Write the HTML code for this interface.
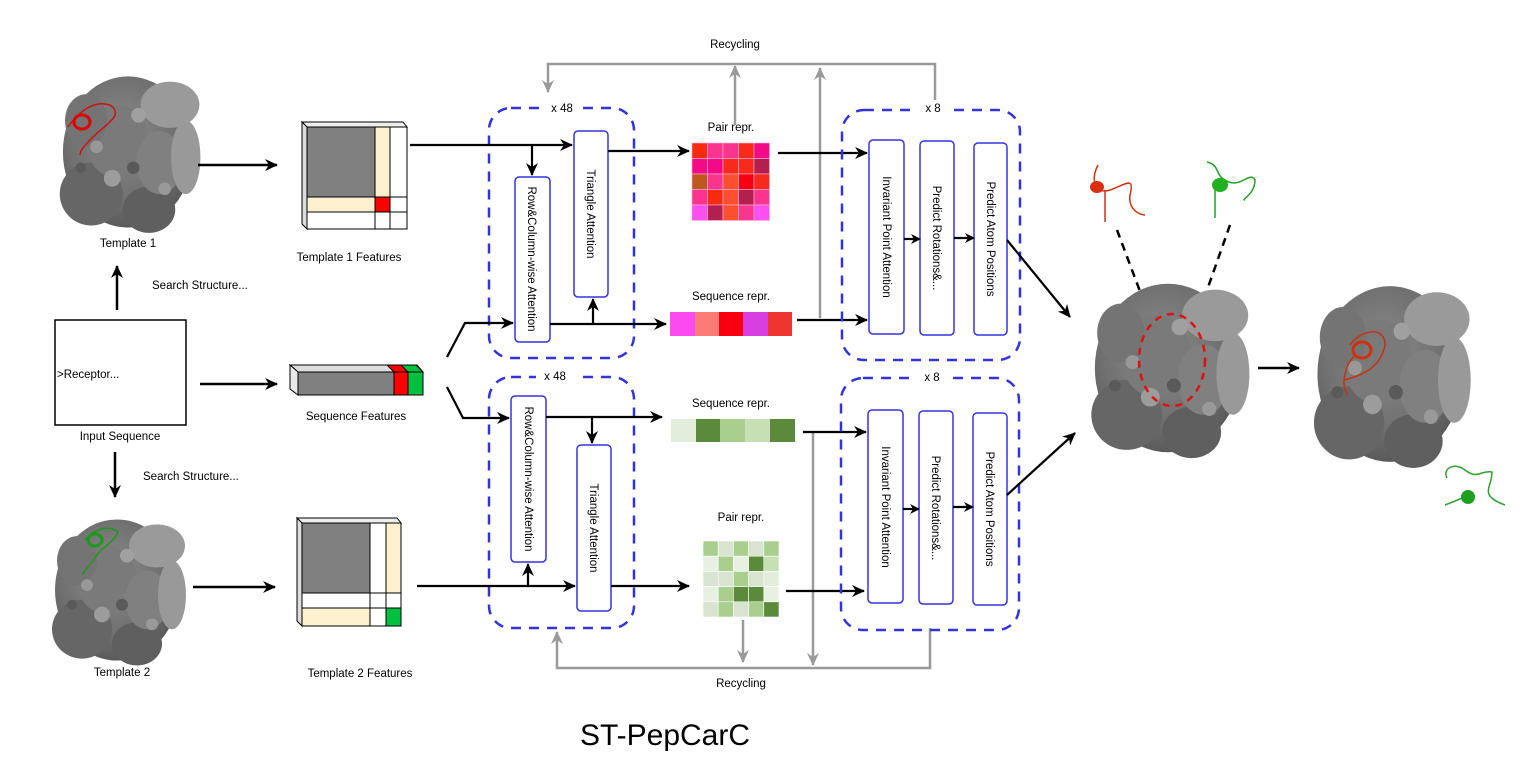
<!DOCTYPE html>
<html><head><meta charset="utf-8"><style>
html,body{margin:0;padding:0;background:#fff;}
svg{display:block;font-family:"Liberation Sans",Arial,sans-serif;}
</style></head><body>
<svg width="1524" height="778" viewBox="0 0 1524 778" xmlns="http://www.w3.org/2000/svg" font-size="11.5">
<defs>
<marker id="ah" markerWidth="10" markerHeight="10" refX="8" refY="5" orient="auto" markerUnits="userSpaceOnUse"><path d="M0,0 L10,5 L0,10 L3,5 Z" fill="#000"/></marker>
<marker id="ahs" markerWidth="14" markerHeight="14" refX="12" refY="7" orient="auto" markerUnits="userSpaceOnUse"><path d="M0,1 L13,7 L0,13 L4,7 Z" fill="#000"/></marker>
<marker id="ag" markerWidth="14" markerHeight="14" refX="12" refY="7" orient="auto" markerUnits="userSpaceOnUse"><path d="M0,1 L13,7 L0,13 L4,7 Z" fill="#9a9a9a"/></marker>
<radialGradient id="pg" cx="45%" cy="40%" r="60%"><stop offset="0" stop-color="#8c8c8c"/><stop offset="0.7" stop-color="#6f6f6f"/><stop offset="1" stop-color="#5a5a5a"/></radialGradient>
<g id="prot">
<ellipse cx="0" cy="0" rx="62" ry="72" fill="url(#pg)"/>
<ellipse cx="40" cy="-45" rx="28" ry="22" fill="#9a9a9a"/>
<ellipse cx="-35" cy="40" rx="30" ry="30" fill="#666"/>
<ellipse cx="20" cy="55" rx="25" ry="22" fill="#5f5f5f"/>
<ellipse cx="-10" cy="-10" rx="30" ry="35" fill="#7a7a7a"/>
<ellipse cx="30" cy="10" rx="22" ry="30" fill="#808080"/>
<ellipse cx="-40" cy="-30" rx="20" ry="25" fill="#747474"/>
<ellipse cx="55" cy="5" rx="14" ry="35" fill="#999"/>
<circle cx="-15" cy="25" r="8" fill="#9c9c9c"/><circle cx="10" cy="-35" r="7" fill="#a0a0a0"/><circle cx="35" cy="35" r="6" fill="#999"/><circle cx="-30" cy="-5" r="6" fill="#989898"/><circle cx="5" cy="15" r="6" fill="#5a5a5a"/><circle cx="-45" cy="15" r="5" fill="#5a5a5a"/>
</g>
</defs>

<use href="#prot" transform="translate(128,152) scale(1.05,1.05)"/>
<path d="M68,127 C80,110 95,100 110,105 C125,115 105,125 95,135 C85,145 80,150 80,155" stroke="#d01010" stroke-width="1.5" fill="none"/>
<ellipse cx="82" cy="122" rx="8" ry="7" fill="none" stroke="#e00000" stroke-width="3"/>
<text x="128" y="247" text-anchor="middle">Template 1</text>

<use href="#prot" transform="translate(117,590) scale(1.0,0.98)"/>
<path d="M85,540 C95,528 110,525 118,532 C112,545 100,548 95,558 C90,565 85,570 82,575" stroke="#1a9a1a" stroke-width="1.5" fill="none"/>
<ellipse cx="95" cy="540" rx="7" ry="6" fill="none" stroke="#1a9a1a" stroke-width="3"/>
<text x="122" y="676" text-anchor="middle">Template 2</text>

<rect x="55" y="320" width="131" height="105" fill="#fff" stroke="#000" stroke-width="1.5"/>
<text x="57" y="378">&gt;Receptor...</text>
<text x="120" y="440" text-anchor="middle">Input Sequence</text>
<line x1="117" y1="310" x2="117" y2="266" stroke="#000" stroke-width="2.5" marker-end="url(#ahs)"/>
<text x="152" y="289">Search Structure...</text>
<line x1="115" y1="452" x2="115" y2="497" stroke="#000" stroke-width="2.5" marker-end="url(#ahs)"/>
<text x="143" y="480">Search Structure...</text>
<line x1="198" y1="165" x2="277" y2="165" stroke="#000" stroke-width="2.5" marker-end="url(#ahs)"/>
<line x1="200" y1="384" x2="277" y2="384" stroke="#000" stroke-width="2.5" marker-end="url(#ahs)"/>
<line x1="193" y1="587" x2="275" y2="587" stroke="#000" stroke-width="2.5" marker-end="url(#ahs)"/>

<g stroke="#000" stroke-width="1">
<polygon points="302,122 403,122 407,127 307,127" fill="#eee"/>
<polygon points="302,122 307,127 307,229 302,224" fill="#ddd"/>
<rect x="307" y="127" width="68" height="70" fill="#808080"/>
<rect x="375" y="127" width="15" height="70" fill="#fdf0cf"/>
<rect x="390" y="127" width="17" height="70" fill="#fff"/>
<rect x="307" y="197" width="68" height="15" fill="#fdf0cf"/>
<rect x="375" y="197" width="15" height="15" fill="#f00"/>
<rect x="390" y="197" width="17" height="15" fill="#fff"/>
<rect x="307" y="212" width="68" height="17" fill="#fff"/>
<rect x="375" y="212" width="15" height="17" fill="#fff"/>
<rect x="390" y="212" width="17" height="17" fill="#fff"/>
</g>
<text x="349" y="261" text-anchor="middle">Template 1 Features</text>

<g stroke="#000" stroke-width="1">
<polygon points="290,365 417,365 423,372 298,372" fill="#ddd"/>
<polygon points="290,365 298,372 298,395 290,389" fill="#e8e8e8"/>
<rect x="298" y="372" width="96" height="23" fill="#808080"/>
<rect x="394" y="372" width="14" height="23" fill="#f00"/>
<rect x="408" y="372" width="15" height="23" fill="#00c040"/>
<polygon points="387,365 401,365 408,372 394,372" fill="#f00"/>
<polygon points="401,365 416,365 423,372 408,372" fill="#00c040"/>
</g>
<text x="356" y="420" text-anchor="middle">Sequence Features</text>

<g stroke="#000" stroke-width="1">
<polygon points="297,518 397,518 401,523 302,523" fill="#eee"/>
<polygon points="297,518 302,523 302,626 297,621" fill="#ddd"/>
<rect x="302" y="523" width="68" height="70" fill="#808080"/>
<rect x="370" y="523" width="16" height="70" fill="#fff"/>
<rect x="386" y="523" width="15" height="70" fill="#fdf0cf"/>
<rect x="302" y="593" width="68" height="15" fill="#fff"/>
<rect x="370" y="593" width="16" height="15" fill="#fff"/>
<rect x="386" y="593" width="15" height="15" fill="#fff"/>
<rect x="302" y="608" width="68" height="18" fill="#fdf0cf"/>
<rect x="370" y="608" width="16" height="18" fill="#fff"/>
<rect x="386" y="608" width="15" height="18" fill="#00c040"/>
</g>
<text x="360" y="677" text-anchor="middle">Template 2 Features</text>

<rect x="489" y="108" width="145" height="250" rx="22" fill="none" stroke="#3333dd" stroke-width="2.5" stroke-dasharray="10,8"/>
<rect x="545" y="100" width="34" height="14" fill="#fff"/>
<text x="562" y="112" text-anchor="middle">x 48</text>
<rect x="515" y="177" width="35" height="165" rx="4" fill="#fff" stroke="#3333dd" stroke-width="1.5"/>
<text transform="translate(528,259) rotate(90)" text-anchor="middle">Row&amp;Column-wise Attention</text>
<rect x="574" y="131" width="34" height="166" rx="4" fill="#fff" stroke="#3333dd" stroke-width="1.5"/>
<text transform="translate(587,214) rotate(90)" text-anchor="middle">Triangle Attention</text>
<line x1="410" y1="145" x2="572" y2="145" stroke="#000" stroke-width="2.2" marker-end="url(#ahs)"/>
<line x1="532" y1="145" x2="532" y2="175" stroke="#000" stroke-width="2.2" marker-end="url(#ahs)"/>
<polyline points="447,357 465,323 513,323" fill="none" stroke="#000" stroke-width="2.2" marker-end="url(#ahs)"/>
<line x1="550" y1="324" x2="666" y2="324" stroke="#000" stroke-width="2.2" marker-end="url(#ahs)"/>
<line x1="593" y1="324" x2="593" y2="299" stroke="#000" stroke-width="2.2" marker-end="url(#ahs)"/>
<line x1="608" y1="151" x2="689" y2="151" stroke="#000" stroke-width="2.2" marker-end="url(#ahs)"/>

<text x="731" y="131" text-anchor="middle">Pair repr.</text>
<g stroke="#ffb0d8" stroke-width="0.6">
<rect x="692" y="143" width="15.5" height="15.5" fill="#f62b10"/><rect x="707.5" y="143" width="15.5" height="15.5" fill="#f9358f"/><rect x="723" y="143" width="15.5" height="15.5" fill="#f9358f"/><rect x="738.5" y="143" width="15.5" height="15.5" fill="#f62b1c"/><rect x="754" y="143" width="15.5" height="15.5" fill="#f20a86"/>
<rect x="692" y="158.5" width="15.5" height="15.5" fill="#f20a86"/><rect x="707.5" y="158.5" width="15.5" height="15.5" fill="#f20a86"/><rect x="723" y="158.5" width="15.5" height="15.5" fill="#f62b1c"/><rect x="738.5" y="158.5" width="15.5" height="15.5" fill="#f62b1c"/><rect x="754" y="158.5" width="15.5" height="15.5" fill="#b3204f"/>
<rect x="692" y="174" width="15.5" height="15.5" fill="#c0571c"/><rect x="707.5" y="174" width="15.5" height="15.5" fill="#f9358f"/><rect x="723" y="174" width="15.5" height="15.5" fill="#fb5030"/><rect x="738.5" y="174" width="15.5" height="15.5" fill="#f80010"/><rect x="754" y="174" width="15.5" height="15.5" fill="#f62b1c"/>
<rect x="692" y="189.5" width="15.5" height="15.5" fill="#f9358f"/><rect x="707.5" y="189.5" width="15.5" height="15.5" fill="#f62b10"/><rect x="723" y="189.5" width="15.5" height="15.5" fill="#fb5030"/><rect x="738.5" y="189.5" width="15.5" height="15.5" fill="#b3204f"/><rect x="754" y="189.5" width="15.5" height="15.5" fill="#f9358f"/>
<rect x="692" y="205" width="15.5" height="15.5" fill="#fb50f0"/><rect x="707.5" y="205" width="15.5" height="15.5" fill="#b3204f"/><rect x="723" y="205" width="15.5" height="15.5" fill="#fb5030"/><rect x="738.5" y="205" width="15.5" height="15.5" fill="#f9358f"/><rect x="754" y="205" width="15.5" height="15.5" fill="#fb50f0"/>
</g>
<text x="731" y="300" text-anchor="middle">Sequence repr.</text>
<rect x="670" y="312" width="25" height="24" fill="#fb4af0"/><rect x="695" y="312" width="24" height="24" fill="#fb7b76"/><rect x="719" y="312" width="24" height="24" fill="#f80010"/><rect x="743" y="312" width="25" height="24" fill="#d83fe0"/><rect x="768" y="312" width="24" height="24" fill="#ef3530"/>

<polyline points="935,108 935,64 548,64 548,92" fill="none" stroke="#9a9a9a" stroke-width="2.5" marker-end="url(#ag)"/>
<line x1="735" y1="125" x2="735" y2="66" stroke="#9a9a9a" stroke-width="2.5" marker-end="url(#ag)"/>
<line x1="820" y1="318" x2="820" y2="68" stroke="#9a9a9a" stroke-width="2.5" marker-end="url(#ag)"/>
<text x="735" y="48" text-anchor="middle">Recycling</text>

<line x1="778" y1="153" x2="867" y2="153" stroke="#000" stroke-width="2.2" marker-end="url(#ahs)"/>
<line x1="797" y1="320" x2="867" y2="320" stroke="#000" stroke-width="2.2" marker-end="url(#ahs)"/>
<rect x="842" y="110" width="178" height="250" rx="22" fill="none" stroke="#3333dd" stroke-width="2.5" stroke-dasharray="10,8"/>
<rect x="918" y="100" width="30" height="14" fill="#fff"/>
<text x="933" y="112" text-anchor="middle">x 8</text>
<rect x="869" y="140" width="35" height="194" rx="4" fill="#fff" stroke="#3333dd" stroke-width="1.5"/>
<text transform="translate(883,237) rotate(90)" text-anchor="middle">Invariant Point Attention</text>
<rect x="920" y="141" width="34" height="194" rx="4" fill="#fff" stroke="#3333dd" stroke-width="1.5"/>
<text transform="translate(933,238) rotate(90)" text-anchor="middle">Predict Rotations&amp;...</text>
<rect x="974" y="143" width="33" height="192" rx="4" fill="#fff" stroke="#3333dd" stroke-width="1.5"/>
<text transform="translate(987,239) rotate(90)" text-anchor="middle">Predict Atom Positions</text>
<line x1="904" y1="239" x2="919" y2="239" stroke="#000" stroke-width="2.2" marker-end="url(#ah)"/>
<line x1="954" y1="238" x2="973" y2="238" stroke="#000" stroke-width="2.2" marker-end="url(#ah)"/>
<line x1="1007" y1="240" x2="1070" y2="317" stroke="#000" stroke-width="2.2" marker-end="url(#ahs)"/>

<rect x="489" y="377" width="145" height="251" rx="22" fill="none" stroke="#3333dd" stroke-width="2.5" stroke-dasharray="10,8"/>
<rect x="536" y="369" width="40" height="14" fill="#fff"/>
<text x="555" y="380" text-anchor="middle">x 48</text>
<rect x="511" y="396" width="35" height="166" rx="4" fill="#fff" stroke="#3333dd" stroke-width="1.5"/>
<text transform="translate(525,479) rotate(90)" text-anchor="middle">Row&amp;Column-wise Attention</text>
<rect x="577" y="445" width="34" height="166" rx="4" fill="#fff" stroke="#3333dd" stroke-width="1.5"/>
<text transform="translate(590,528) rotate(90)" text-anchor="middle">Triangle Attention</text>
<polyline points="447,387 463,418 509,418" fill="none" stroke="#000" stroke-width="2.2" marker-end="url(#ahs)"/>
<line x1="546" y1="417" x2="662" y2="417" stroke="#000" stroke-width="2.2" marker-end="url(#ahs)"/>
<line x1="592" y1="417" x2="592" y2="443" stroke="#000" stroke-width="2.2" marker-end="url(#ahs)"/>
<line x1="417" y1="586" x2="575" y2="586" stroke="#000" stroke-width="2.2" marker-end="url(#ahs)"/>
<line x1="528" y1="586" x2="528" y2="564" stroke="#000" stroke-width="2.2" marker-end="url(#ahs)"/>
<line x1="611" y1="586" x2="689" y2="586" stroke="#000" stroke-width="2.2" marker-end="url(#ahs)"/>

<text x="731" y="407" text-anchor="middle">Sequence repr.</text>
<rect x="671" y="419" width="25" height="23" fill="#e2eedb"/><rect x="696" y="419" width="24" height="23" fill="#5a8a3a"/><rect x="720" y="419" width="25" height="23" fill="#a9cf8e"/><rect x="745" y="419" width="25" height="23" fill="#c6e0b4"/><rect x="770" y="419" width="25" height="23" fill="#5a8a3a"/>
<text x="741" y="521" text-anchor="middle">Pair repr.</text>
<g stroke="#fff" stroke-width="0.6">
<rect x="703" y="541" width="15.2" height="15.2" fill="#a9cf8e"/><rect x="718.2" y="541" width="15.2" height="15.2" fill="#d8e4d0"/><rect x="733.4" y="541" width="15.2" height="15.2" fill="#a9cf8e"/><rect x="748.6" y="541" width="15.2" height="15.2" fill="#d8e4d0"/><rect x="763.8" y="541" width="15.2" height="15.2" fill="#a9cf8e"/>
<rect x="703" y="556.2" width="15.2" height="15.2" fill="#e8f0e2"/><rect x="718.2" y="556.2" width="15.2" height="15.2" fill="#a9cf8e"/><rect x="733.4" y="556.2" width="15.2" height="15.2" fill="#e8f0e2"/><rect x="748.6" y="556.2" width="15.2" height="15.2" fill="#5a8a3a"/><rect x="763.8" y="556.2" width="15.2" height="15.2" fill="#c6e0b4"/>
<rect x="703" y="571.4" width="15.2" height="15.2" fill="#d8e4d0"/><rect x="718.2" y="571.4" width="15.2" height="15.2" fill="#d8e4d0"/><rect x="733.4" y="571.4" width="15.2" height="15.2" fill="#a9cf8e"/><rect x="748.6" y="571.4" width="15.2" height="15.2" fill="#d8e4d0"/><rect x="763.8" y="571.4" width="15.2" height="15.2" fill="#e2eedb"/>
<rect x="703" y="586.6" width="15.2" height="15.2" fill="#e8f0e2"/><rect x="718.2" y="586.6" width="15.2" height="15.2" fill="#a9cf8e"/><rect x="733.4" y="586.6" width="15.2" height="15.2" fill="#5a8a3a"/><rect x="748.6" y="586.6" width="15.2" height="15.2" fill="#5a8a3a"/><rect x="763.8" y="586.6" width="15.2" height="15.2" fill="#e8f0e2"/>
<rect x="703" y="601.8" width="15.2" height="15.2" fill="#d8e4d0"/><rect x="718.2" y="601.8" width="15.2" height="15.2" fill="#a9cf8e"/><rect x="733.4" y="601.8" width="15.2" height="15.2" fill="#d8e4d0"/><rect x="748.6" y="601.8" width="15.2" height="15.2" fill="#a9cf8e"/><rect x="763.8" y="601.8" width="15.2" height="15.2" fill="#5a8a3a"/>
</g>

<polyline points="930,628 930,668 557,668 557,632" fill="none" stroke="#9a9a9a" stroke-width="2.5" marker-end="url(#ag)"/>
<line x1="743" y1="620" x2="743" y2="662" stroke="#9a9a9a" stroke-width="2.5" marker-end="url(#ag)"/>
<line x1="813" y1="432" x2="813" y2="665" stroke="#9a9a9a" stroke-width="2.5" marker-end="url(#ag)"/>
<text x="741" y="687" text-anchor="middle">Recycling</text>

<line x1="803" y1="432" x2="866" y2="432" stroke="#000" stroke-width="2.2" marker-end="url(#ahs)"/>
<line x1="786" y1="591" x2="864" y2="591" stroke="#000" stroke-width="2.2" marker-end="url(#ahs)"/>
<rect x="841" y="378" width="178" height="252" rx="22" fill="none" stroke="#3333dd" stroke-width="2.5" stroke-dasharray="10,8"/>
<rect x="917" y="370" width="30" height="14" fill="#fff"/>
<text x="932" y="381" text-anchor="middle">x 8</text>
<rect x="868" y="410" width="35" height="193" rx="4" fill="#fff" stroke="#3333dd" stroke-width="1.5"/>
<text transform="translate(882,507) rotate(90)" text-anchor="middle">Invariant Point Attention</text>
<rect x="919" y="411" width="34" height="193" rx="4" fill="#fff" stroke="#3333dd" stroke-width="1.5"/>
<text transform="translate(932,508) rotate(90)" text-anchor="middle">Predict Rotations&amp;...</text>
<rect x="973" y="413" width="34" height="192" rx="4" fill="#fff" stroke="#3333dd" stroke-width="1.5"/>
<text transform="translate(986,509) rotate(90)" text-anchor="middle">Predict Atom Positions</text>
<line x1="903" y1="509" x2="918" y2="509" stroke="#000" stroke-width="2.2" marker-end="url(#ah)"/>
<line x1="953" y1="507" x2="972" y2="507" stroke="#000" stroke-width="2.2" marker-end="url(#ah)"/>
<line x1="1007" y1="495" x2="1075" y2="433" stroke="#000" stroke-width="2.2" marker-end="url(#ahs)"/>

<path d="M1098,165 C1090,180 1095,195 1110,190 C1125,185 1135,175 1130,195 C1128,210 1140,215 1145,215 M1105,190 L1105,222" stroke="#d03010" stroke-width="1.5" fill="none"/>
<ellipse cx="1097" cy="187" rx="7" ry="6" fill="#d83010"/>
<path d="M1207,162 C1220,165 1215,175 1225,180 C1240,190 1250,170 1255,180 C1255,195 1240,200 1245,200 M1215,187 L1215,218" stroke="#20a020" stroke-width="1.5" fill="none"/>
<ellipse cx="1220" cy="185" rx="8" ry="7" fill="#20b020"/>
<line x1="1117" y1="230" x2="1147" y2="310" stroke="#000" stroke-width="2.5" stroke-dasharray="8,6" marker-end="url(#ahs)"/>
<line x1="1230" y1="225" x2="1200" y2="310" stroke="#000" stroke-width="2.5" stroke-dasharray="8,6" marker-end="url(#ahs)"/>
<use href="#prot" transform="translate(1168,368) scale(1.18,1.17)"/>
<ellipse cx="1172" cy="360" rx="33" ry="46" fill="none" stroke="#e01010" stroke-width="2.5" stroke-dasharray="7,6"/>
<line x1="1258" y1="368" x2="1299" y2="368" stroke="#000" stroke-width="2.5" marker-end="url(#ahs)"/>
<use href="#prot" transform="translate(1390,374) scale(1.17,1.22)"/>
<path d="M1350,345 C1360,330 1385,325 1385,345 C1380,370 1360,375 1345,380 M1355,355 C1345,365 1340,385 1348,395" stroke="#c83010" stroke-width="1.5" fill="none"/>
<ellipse cx="1362" cy="350" rx="9" ry="8" fill="none" stroke="#d03010" stroke-width="3"/>
<path d="M1447,478 C1442,468 1455,462 1465,470 C1478,480 1480,470 1492,472 C1492,488 1478,495 1505,505 M1465,497 L1445,505" stroke="#30a030" stroke-width="1.5" fill="none"/>
<ellipse cx="1468" cy="497" rx="7" ry="7" fill="#20a020"/>

<text x="665" y="745" font-size="30" text-anchor="middle">ST-PepCarC</text>
</svg>
</body></html>
